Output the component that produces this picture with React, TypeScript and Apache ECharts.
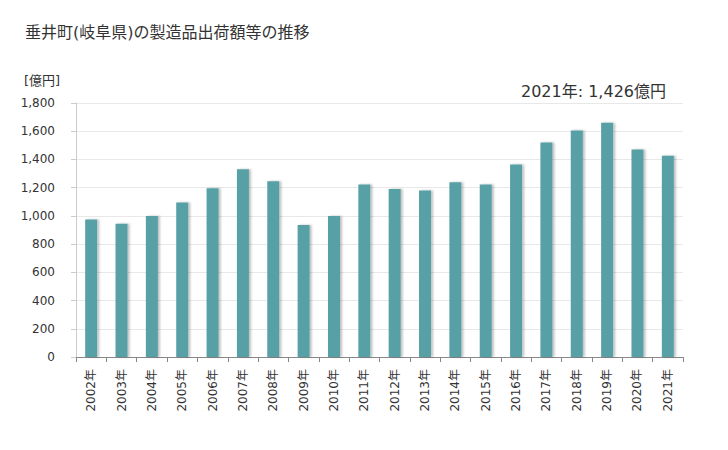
import React, { useEffect, useRef } from "react";
import * as echarts from "echarts";

const categories = ["2002年","2003年","2004年","2005年","2006年","2007年","2008年","2009年","2010年","2011年","2012年","2013年","2014年","2015年","2016年","2017年","2018年","2019年","2020年","2021年"];
const values = [975, 945, 1000, 1095, 1195, 1330, 1245, 935, 1000, 1222, 1190, 1180, 1238, 1222, 1365, 1520, 1605, 1660, 1470, 1426];
const titleText = "垂井町(岐阜県)の製造品出荷額等の推移";
const unitText = "[億円]";
const noteText = "2021年: 1,426億円";

export default function App() {
  const ref = useRef<HTMLDivElement>(null);
  useEffect(() => {
    const chart = echarts.init(ref.current!, null, { renderer: "svg" });
    const font = "'DejaVu Sans', 'Noto Sans CJK JP', sans-serif";
    chart.setOption({
      animation: false,
      textStyle: { fontFamily: font },
      title: [
        { text: titleText, left: 20, top: 19, textStyle: { fontSize: 16, fontWeight: "normal", color: "#333", fontFamily: font } },
        { text: unitText, left: 19, top: 69, textStyle: { fontSize: 13, fontWeight: "normal", color: "#333", fontFamily: font } },
        { text: noteText, right: 57, top: 78, textStyle: { fontSize: 16, fontWeight: "normal", color: "#333", fontFamily: font } },
      ],
      grid: { left: 76, right: 45, top: 103, bottom: 93, outerBoundsMode: "none" },
      xAxis: {
        type: "category",
        data: categories,
        axisLine: { lineStyle: { color: "#888" } },
        axisTick: { show: true, length: 5, lineStyle: { color: "#888" } },
        axisLabel: { rotate: 90, fontSize: 12, color: "#333", margin: 12, fontFamily: font },
      },
      yAxis: {
        type: "value",
        min: 0,
        max: 1800,
        interval: 200,
        axisLine: { show: true, lineStyle: { color: "#ccc" } },
        axisTick: { show: true, length: 5, lineStyle: { color: "#ccc" } },
        axisLabel: { fontSize: 12, color: "#333", margin: 21, fontFamily: font, formatter: (v: number) => v.toLocaleString("en-US") },
        splitLine: { lineStyle: { color: "#e8e8e8" } },
      },
      series: [
        {
          type: "bar",
          data: values,
          barWidth: 12,
          itemStyle: { color: "#56a0a6", shadowColor: "rgba(0,0,0,0.25)", shadowOffsetX: 2, shadowOffsetY: 0, shadowBlur: 2 },
        },
      ],
    });
    return () => chart.dispose();
  }, []);
  return <div ref={ref} style={{ width: 728, height: 450, position: "absolute", left: 0, top: 0 }} />;
}
